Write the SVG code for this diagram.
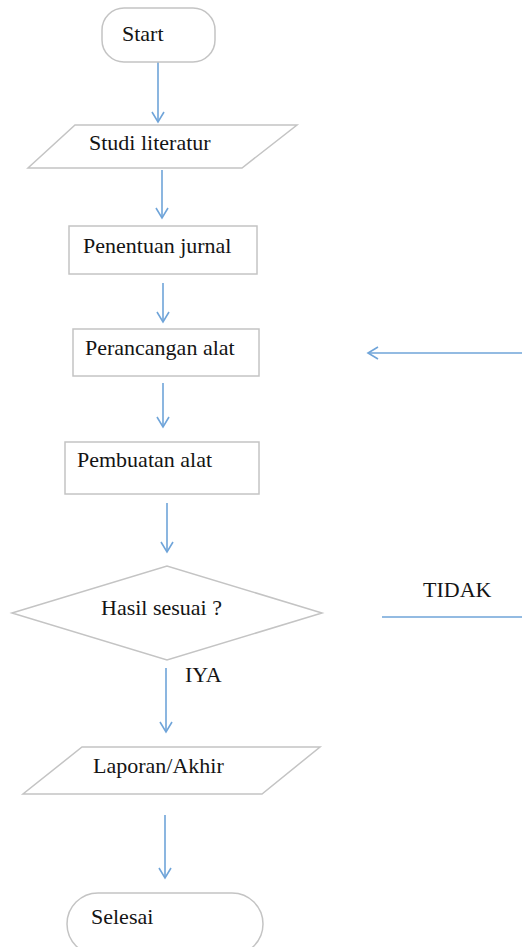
<svg xmlns="http://www.w3.org/2000/svg" width="522" height="947" viewBox="0 0 522 947">
<style>
.box{fill:#ffffff;stroke:#c4c4c4;stroke-width:1.5}
.lbl{font-family:'Liberation Serif','DejaVu Serif',serif;font-size:22px;fill:#141414}
.con{stroke:#6fa4d9;stroke-width:1.6;fill:none}
</style>
<defs>
<marker id="ah" markerUnits="userSpaceOnUse" markerWidth="14" markerHeight="16" refX="11" refY="7" orient="auto">
<path d="M1,1 L11,7 L1,13" fill="none" stroke="#6fa4d9" stroke-width="1.6"/>
</marker>
</defs>
<rect width="522" height="947" fill="#ffffff"/>
<g id="connectors">
<line class="con" x1="158" y1="62" x2="158" y2="122" marker-end="url(#ah)"/>
<line class="con" x1="162" y1="170" x2="162" y2="218" marker-end="url(#ah)"/>
<line class="con" x1="163" y1="283" x2="163" y2="322" marker-end="url(#ah)"/>
<line class="con" x1="163" y1="383" x2="163" y2="427" marker-end="url(#ah)"/>
<line class="con" x1="167" y1="503" x2="167" y2="552" marker-end="url(#ah)"/>
<line class="con" x1="166" y1="668" x2="166" y2="732" marker-end="url(#ah)"/>
<line class="con" x1="165" y1="815" x2="165" y2="878" marker-end="url(#ah)"/>
<line class="con" x1="522" y1="353" x2="368" y2="353" marker-end="url(#ah)"/>
<line class="con" x1="382" y1="617" x2="522" y2="617"/>
<text class="lbl" x="423" y="597">TIDAK</text>
<text class="lbl" x="185" y="682">IYA</text>
</g>
<g id="start">
<rect class="box" x="102" y="8" width="113" height="54" rx="22"/>
<text class="lbl" x="122" y="41">Start</text>
</g>
<g id="studi">
<polygon class="box" points="75,125 297,125 242,168 28,168"/>
<text class="lbl" x="89" y="150">Studi literatur</text>
</g>
<g id="penentuan">
<rect class="box" x="69" y="226" width="188" height="48"/>
<text class="lbl" x="83" y="253">Penentuan jurnal</text>
</g>
<g id="perancangan">
<rect class="box" x="73" y="329" width="186" height="47"/>
<text class="lbl" x="85" y="355">Perancangan alat</text>
</g>
<g id="pembuatan">
<rect class="box" x="65" y="442" width="194" height="52"/>
<text class="lbl" x="77" y="467">Pembuatan alat</text>
</g>
<g id="hasil">
<polygon class="box" points="12,613 167,566 322,613 167,660"/>
<text class="lbl" x="101" y="615">Hasil sesuai ?</text>
</g>
<g id="laporan">
<polygon class="box" points="82,747 320,747 262,794 23,794"/>
<text class="lbl" x="93" y="773">Laporan/Akhir</text>
</g>
<g id="selesai">
<rect class="box" x="67" y="893" width="196" height="62" rx="31"/>
<text class="lbl" x="91" y="924">Selesai</text>
</g>
</svg>
